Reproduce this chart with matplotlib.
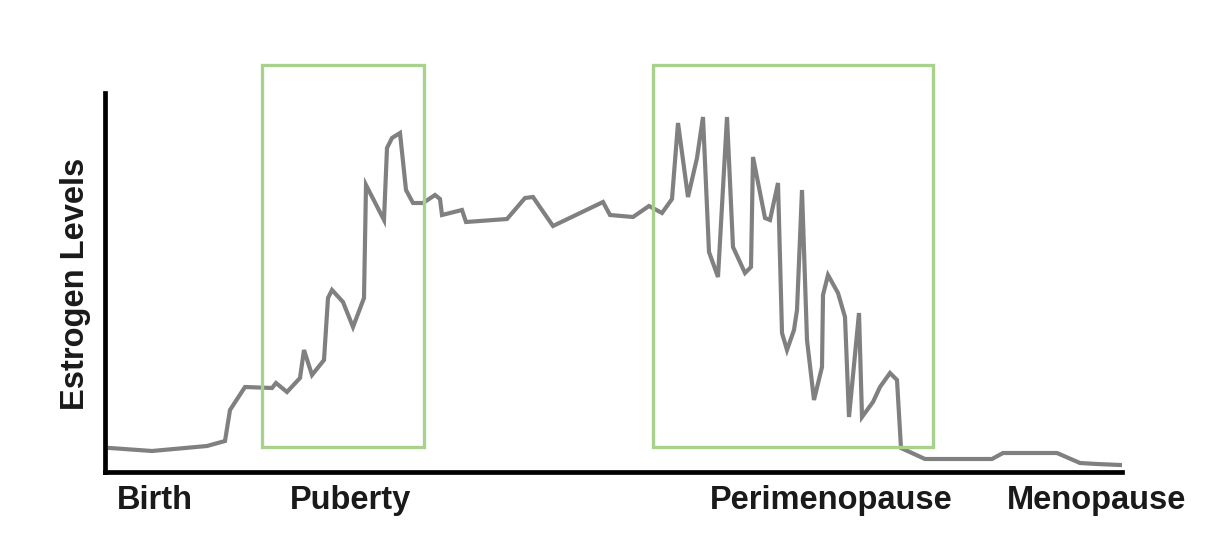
import matplotlib
matplotlib.use("Agg")
import matplotlib.pyplot as plt
from matplotlib.patches import Rectangle

plt.rcParams['font.family'] = ['Liberation Sans', 'DejaVu Sans']

# time axis (arbitrary units along the life span) and estrogen level
time = [110, 152, 207, 225, 230, 245, 272, 276, 287, 300, 304, 312, 324, 328, 332,
        343, 353, 364, 366, 384, 387, 392, 400, 406, 413, 423, 435, 440, 442, 462,
        466, 507, 525, 533, 553, 603, 610, 633, 649, 662, 672, 678, 688, 697, 703,
        709, 718, 727, 733, 745, 751, 753, 765, 770, 778, 782, 787, 794, 797, 802,
        807, 814, 822, 823, 828, 838, 845, 849, 859, 862, 873, 880, 890, 897, 901,
        925, 992, 1003, 1057, 1080, 1097, 1120]
level = [24, 21, 26, 31, 62, 85, 84, 89, 80, 94, 122, 97, 112, 174, 182,
         170, 145, 174, 287, 252, 324, 334, 339, 282, 269, 269, 277, 273, 257, 262,
         250, 253, 274, 275, 246, 270, 257, 255, 266, 259, 273, 349, 275, 314, 355,
         220, 195, 355, 225, 199, 205, 315, 254, 252, 289, 139, 122, 142, 162, 282,
         132, 72, 105, 177, 197, 179, 155, 55, 159, 55, 70, 85, 99, 92, 24,
         13, 13, 19, 19, 9, 8, 7]

phase_labels = ["Birth", "Puberty", "Perimenopause", "Menopause"]
phase_pos = [155, 350, 831, 1097]

# highlighted windows (start, end) in time units
windows = [(262, 424), (653, 933)]

fig = plt.figure(figsize=(12.18, 5.51), dpi=100)
ax = fig.add_axes([105 / 1218, (551 - 472) / 551, (1122 - 105) / 1218, (472 - 93) / 551])

ax.plot(time, level, color='#808080', linewidth=3.0, solid_joinstyle='miter')
ax.set_xlim(105, 1122)
ax.set_ylim(0, 379)

for x0, x1 in windows:
    ax.add_patch(Rectangle((x0, 25), x1 - x0, 382, fill=False,
                           edgecolor='#a9d18e', linewidth=2.4, clip_on=False, zorder=3))

for s in ['top', 'right']:
    ax.spines[s].set_visible(False)
for s in ['left', 'bottom']:
    ax.spines[s].set_linewidth(3.4)
    ax.spines[s].set_color('black')
ax.set_xticks([])
ax.set_yticks([])

for lab, x in zip(phase_labels, phase_pos):
    ax.text(x, -0.033, lab, transform=ax.get_xaxis_transform(), ha='center', va='top',
            fontsize=23.5, fontweight='bold', color='#1a1a1a')

ax.set_ylabel('Estrogen Levels', fontsize=23.5, fontweight='bold', color='#1a1a1a')
ax.yaxis.set_label_coords(-14 / 1017, (472 - 284) / 379)

fig.savefig('out.png', dpi=100, facecolor='white')
